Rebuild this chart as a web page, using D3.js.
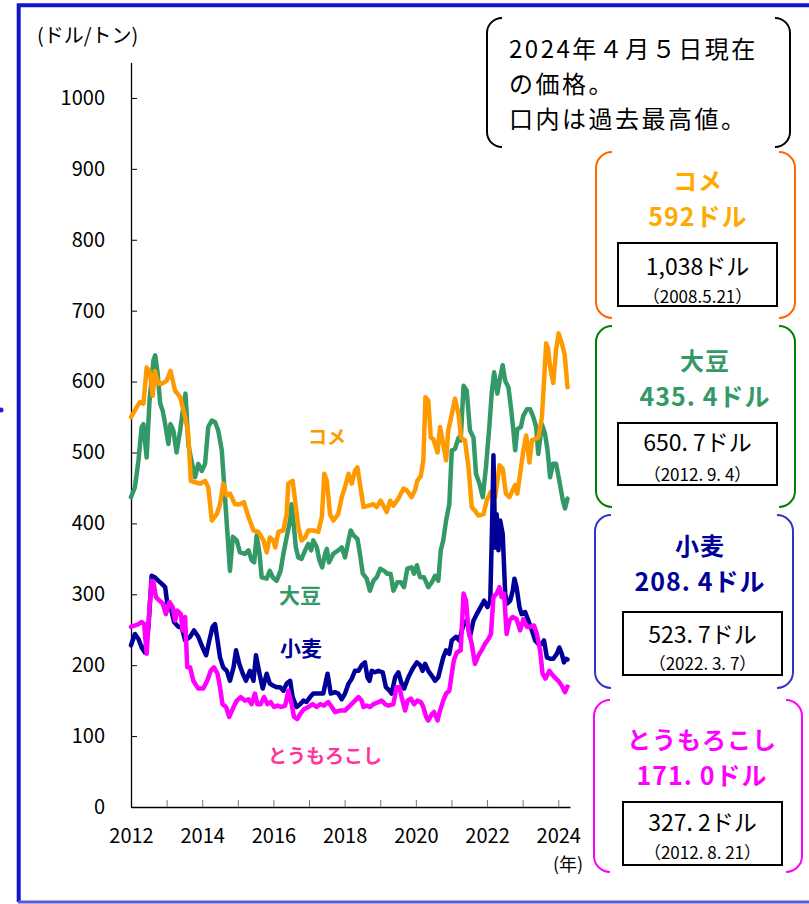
<!DOCTYPE html>
<html>
<head>
<meta charset="utf-8">
<script src="https://cdn.jsdelivr.net/npm/d3@7"></script>
<style>
  body { margin: 0; background: #fff; }
  svg text { font-family: "Noto Sans CJK JP", "Noto Sans", sans-serif; }
</style>
</head>
<body>
<div id="chart"></div>
<script>
// Data (year, $/ton)
var riceSeries = [[2012.00,550],[2012.16,564],[2012.25,571],[2012.35,569],[2012.44,620],[2012.53,613],[2012.61,580],[2012.67,615],[2012.77,597],[2012.86,597],[2013.00,601],[2013.11,615],[2013.24,587],[2013.38,578],[2013.52,550],[2013.61,526],[2013.68,460],[2013.80,458],[2013.94,456],[2014.08,460],[2014.17,451],[2014.27,404],[2014.41,413],[2014.50,427],[2014.59,456],[2014.69,439],[2014.78,442],[2014.92,427],[2015.06,427],[2015.17,430],[2015.30,409],[2015.44,390],[2015.58,388],[2015.72,376],[2015.81,359],[2015.90,380],[2016.00,376],[2016.05,366],[2016.14,388],[2016.28,390],[2016.37,413],[2016.42,456],[2016.54,460],[2016.61,432],[2016.70,395],[2016.79,376],[2016.89,380],[2016.98,390],[2017.12,390],[2017.26,388],[2017.36,409],[2017.43,470],[2017.50,460],[2017.59,413],[2017.68,404],[2017.82,413],[2017.92,437],[2018.01,451],[2018.11,470],[2018.20,456],[2018.29,474],[2018.36,479],[2018.43,456],[2018.53,423],[2018.67,425],[2018.81,427],[2018.90,423],[2019.01,432],[2019.11,423],[2019.18,416],[2019.28,432],[2019.37,425],[2019.51,435],[2019.65,449],[2019.74,447],[2019.88,437],[2019.98,447],[2020.04,460],[2020.14,467],[2020.21,489],[2020.27,578],[2020.35,573],[2020.42,521],[2020.49,519],[2020.61,500],[2020.68,536],[2020.75,517],[2020.85,489],[2020.91,531],[2021.01,554],[2021.10,576],[2021.20,554],[2021.27,521],[2021.38,517],[2021.48,479],[2021.57,423],[2021.66,418],[2021.76,411],[2021.90,413],[2021.99,432],[2022.10,444],[2022.23,437],[2022.35,482],[2022.44,477],[2022.53,442],[2022.63,437],[2022.72,447],[2022.79,454],[2022.85,442],[2022.93,470],[2023.02,503],[2023.10,524],[2023.19,486],[2023.26,517],[2023.35,519],[2023.44,521],[2023.54,550],[2023.60,600],[2023.66,654],[2023.71,648],[2023.77,621],[2023.86,598],[2023.94,645],[2024.01,668],[2024.10,654],[2024.18,638],[2024.26,592]];

var soySeries = [[2012.00,437],[2012.11,451],[2012.21,489],[2012.30,536],[2012.35,540],[2012.39,517],[2012.44,493],[2012.52,573],[2012.63,630],[2012.68,637],[2012.75,611],[2012.82,569],[2012.89,559],[2012.96,540],[2013.05,512],[2013.11,540],[2013.19,531],[2013.28,500],[2013.38,531],[2013.47,564],[2013.53,583],[2013.61,512],[2013.68,493],[2013.80,465],[2013.89,484],[2013.99,474],[2014.08,484],[2014.17,536],[2014.27,545],[2014.36,543],[2014.45,531],[2014.55,503],[2014.64,437],[2014.71,385],[2014.78,333],[2014.86,381],[2014.97,376],[2015.06,359],[2015.20,357],[2015.30,362],[2015.39,348],[2015.46,345],[2015.53,383],[2015.61,357],[2015.67,324],[2015.81,322],[2015.90,333],[2015.98,324],[2016.09,319],[2016.20,333],[2016.28,357],[2016.37,380],[2016.47,404],[2016.51,427],[2016.56,404],[2016.63,366],[2016.70,352],[2016.79,350],[2016.89,362],[2016.98,371],[2017.06,362],[2017.12,376],[2017.22,366],[2017.29,348],[2017.37,338],[2017.45,357],[2017.50,364],[2017.56,345],[2017.68,357],[2017.82,362],[2017.92,366],[2018.01,352],[2018.11,376],[2018.17,390],[2018.25,383],[2018.36,378],[2018.43,357],[2018.51,329],[2018.62,322],[2018.71,305],[2018.81,319],[2018.90,324],[2019.00,336],[2019.11,333],[2019.20,329],[2019.29,329],[2019.37,305],[2019.48,317],[2019.58,317],[2019.67,310],[2019.76,336],[2019.88,338],[2019.95,329],[2020.03,341],[2020.12,324],[2020.23,324],[2020.35,310],[2020.45,317],[2020.54,326],[2020.63,319],[2020.70,362],[2020.77,376],[2020.85,404],[2020.94,427],[2021.01,503],[2021.10,505],[2021.20,521],[2021.26,517],[2021.34,594],[2021.43,587],[2021.52,531],[2021.62,521],[2021.69,470],[2021.79,456],[2021.88,437],[2021.97,479],[2022.07,540],[2022.13,583],[2022.20,613],[2022.29,583],[2022.37,606],[2022.44,623],[2022.51,601],[2022.60,592],[2022.67,564],[2022.74,531],[2022.79,503],[2022.85,533],[2022.95,536],[2023.02,552],[2023.12,561],[2023.21,561],[2023.30,550],[2023.38,536],[2023.44,498],[2023.54,540],[2023.63,526],[2023.70,503],[2023.77,465],[2023.85,484],[2023.94,484],[2024.03,460],[2024.13,432],[2024.19,421],[2024.26,435]];

var wheatSeries = [[2012.00,228],[2012.11,244],[2012.21,237],[2012.30,225],[2012.39,218],[2012.49,254],[2012.58,326],[2012.67,324],[2012.77,319],[2012.86,315],[2012.96,310],[2013.02,287],[2013.11,282],[2013.21,261],[2013.33,254],[2013.42,254],[2013.52,235],[2013.66,240],[2013.77,249],[2013.89,240],[2014.01,225],[2014.11,214],[2014.20,235],[2014.29,254],[2014.36,258],[2014.43,235],[2014.50,211],[2014.59,197],[2014.69,192],[2014.78,178],[2014.88,197],[2014.95,221],[2015.04,202],[2015.14,188],[2015.23,178],[2015.34,192],[2015.44,178],[2015.51,214],[2015.61,188],[2015.70,167],[2015.81,188],[2015.90,174],[2016.00,171],[2016.09,169],[2016.19,169],[2016.28,164],[2016.37,174],[2016.47,178],[2016.54,155],[2016.65,141],[2016.75,145],[2016.84,150],[2016.93,148],[2017.03,155],[2017.12,160],[2017.26,160],[2017.40,160],[2017.52,188],[2017.61,160],[2017.73,162],[2017.82,160],[2017.92,152],[2018.01,160],[2018.11,174],[2018.20,181],[2018.29,192],[2018.39,192],[2018.48,200],[2018.57,204],[2018.64,183],[2018.70,178],[2018.76,192],[2018.85,190],[2018.95,192],[2019.07,190],[2019.16,169],[2019.26,164],[2019.32,160],[2019.42,183],[2019.51,190],[2019.60,174],[2019.67,167],[2019.79,183],[2019.91,195],[2020.03,204],[2020.12,200],[2020.19,192],[2020.26,202],[2020.35,192],[2020.45,185],[2020.54,178],[2020.63,183],[2020.70,197],[2020.77,211],[2020.85,221],[2020.94,216],[2021.01,235],[2021.13,240],[2021.22,235],[2021.34,258],[2021.43,263],[2021.52,240],[2021.62,263],[2021.71,272],[2021.82,282],[2021.92,291],[2022.01,282],[2022.09,291],[2022.14,395],[2022.18,496],[2022.23,366],[2022.27,413],[2022.32,362],[2022.37,404],[2022.44,385],[2022.51,301],[2022.57,287],[2022.65,291],[2022.72,305],[2022.77,322],[2022.83,310],[2022.91,282],[2022.97,272],[2023.07,275],[2023.16,263],[2023.26,249],[2023.35,235],[2023.44,230],[2023.54,230],[2023.60,235],[2023.68,211],[2023.77,209],[2023.86,209],[2023.96,216],[2024.03,225],[2024.10,216],[2024.16,204],[2024.22,209],[2024.26,208]];

var cornSeries = [[2012.00,254],[2012.11,256],[2012.21,258],[2012.30,261],[2012.37,258],[2012.44,216],[2012.52,282],[2012.58,319],[2012.63,317],[2012.70,296],[2012.80,291],[2012.89,287],[2012.98,272],[2013.08,289],[2013.17,282],[2013.24,263],[2013.30,277],[2013.40,272],[2013.45,249],[2013.52,268],[2013.58,197],[2013.66,197],[2013.75,178],[2013.89,167],[2014.03,167],[2014.14,178],[2014.24,192],[2014.33,197],[2014.43,188],[2014.50,169],[2014.57,145],[2014.67,141],[2014.76,127],[2014.88,141],[2014.97,150],[2015.08,155],[2015.20,150],[2015.30,152],[2015.39,145],[2015.48,160],[2015.55,145],[2015.64,145],[2015.74,155],[2015.83,145],[2015.92,148],[2016.02,141],[2016.11,143],[2016.23,141],[2016.33,143],[2016.42,164],[2016.51,145],[2016.58,127],[2016.67,124],[2016.75,131],[2016.86,138],[2016.98,141],[2017.10,145],[2017.21,141],[2017.31,145],[2017.42,143],[2017.54,148],[2017.64,141],[2017.73,134],[2017.87,136],[2018.01,136],[2018.15,143],[2018.29,150],[2018.39,155],[2018.48,150],[2018.53,141],[2018.62,143],[2018.71,141],[2018.81,145],[2018.95,148],[2019.04,150],[2019.14,145],[2019.23,143],[2019.37,145],[2019.46,169],[2019.54,169],[2019.60,155],[2019.70,136],[2019.77,150],[2019.86,153],[2019.95,145],[2020.04,150],[2020.14,148],[2020.21,141],[2020.29,127],[2020.35,122],[2020.45,131],[2020.51,134],[2020.61,122],[2020.68,136],[2020.77,150],[2020.85,160],[2020.94,164],[2021.01,188],[2021.07,207],[2021.15,218],[2021.26,221],[2021.34,301],[2021.41,291],[2021.48,249],[2021.57,230],[2021.66,202],[2021.76,214],[2021.85,221],[2021.94,230],[2022.04,237],[2022.11,244],[2022.18,296],[2022.27,301],[2022.35,310],[2022.41,296],[2022.48,301],[2022.55,244],[2022.63,263],[2022.72,268],[2022.83,265],[2022.93,249],[2023.02,265],[2023.12,254],[2023.21,254],[2023.32,256],[2023.40,244],[2023.49,221],[2023.56,188],[2023.64,181],[2023.75,192],[2023.86,185],[2024.00,178],[2024.10,171],[2024.19,162],[2024.26,170]];

var yTicks = [0, 100, 200, 300, 400, 500, 600, 700, 800, 900, 1000];
var xTicks = [2012, 2013, 2014, 2015, 2016, 2017, 2018, 2019, 2020, 2021, 2022, 2023, 2024];

// Right side panels
var panelNames   = ["コメ", "大豆", "小麦", "とうもろこし"];
var panelPrices  = ["592ドル", "435. 4ドル", "208. 4ドル", "171. 0ドル"];
var panelRecords = ["1,038ドル", "650. 7ドル", "523. 7ドル", "327. 2ドル"];
var panelDates   = ["（2008.5.21）", "（2012. 9. 4）", "（2022. 3. 7）", "（2012. 8. 21）"];
var noteLines    = ["2024年４月５日現在", "の価格。", "口内は過去最高値。"];

// Chart area
var svgWidth = 809;
var svgHeight = 904;

var margin = { top: 62.5, right: 239, bottom: 97, left: 131 };
var chartHeight = svgHeight - margin.top - margin.bottom;
var chartWidth = svgWidth - margin.left - margin.right;

var svg = d3.select("#chart")
  .append("svg")
  .attr("width", svgWidth)
  .attr("height", svgHeight);

// Frame
svg.append("path")
  .attr("d", "M" + (svgWidth + 10) + ",5.3 H18.7 V902")
  .attr("fill", "none")
  .attr("stroke", "#1414c8")
  .attr("stroke-width", 4);
svg.append("line")
  .attr("x1", 18).attr("x2", svgWidth)
  .attr("y1", 902).attr("y2", 902)
  .attr("stroke", "#5a5ad8")
  .attr("stroke-width", 3);
svg.append("circle")
  .attr("cx", 1).attr("cy", 410).attr("r", 2.5)
  .attr("fill", "#2020cc");

var chartGroup = svg.append("g")
  .attr("transform", "translate(" + margin.left + "," + margin.top + ")");

// Scales
var xScale = d3.scaleLinear().domain([2012, 2024.33]).range([0, chartWidth]);
var yScale = d3.scaleLinear().domain([0, 1050]).range([chartHeight, 0]);

var bottomAxis = d3.axisBottom(xScale)
  .tickValues(xTicks)
  .tickSize(-7)
  .tickSizeOuter(0)
  .tickPadding(22)
  .tickFormat(function(d) { return d % 2 === 0 ? d : ""; });

var leftAxis = d3.axisLeft(yScale)
  .tickValues(yTicks)
  .tickSize(-6)
  .tickSizeOuter(0)
  .tickPadding(26)
  .tickFormat(d3.format("d"));

var xAxisG = chartGroup.append("g")
  .attr("transform", "translate(0," + chartHeight + ")")
  .call(bottomAxis);
xAxisG.selectAll(".tick line").attr("stroke", "#777");

var yAxisG = chartGroup.append("g").call(leftAxis);

[xAxisG, yAxisG].forEach(function(g) {
  g.select(".domain").attr("stroke", "#000").attr("stroke-width", 1.3);
  g.selectAll("text")
    .attr("fill", "#000")
    .style("font-size", "20px")
    .style("font-family", "'Noto Sans CJK JP', sans-serif");
});

// Lines
var line = d3.line()
  .x(function(d) { return xScale(d[0]); })
  .y(function(d) { return yScale(d[1]); });

var seriesList = [
  { data: soySeries, color: "#339966" },
  { data: riceSeries, color: "#ff9900" },
  { data: wheatSeries, color: "#000099" },
  { data: cornSeries, color: "#ff00ff" }
];

seriesList.forEach(function(s) {
  chartGroup.append("path")
    .datum(s.data)
    .attr("d", line)
    .attr("fill", "none")
    .attr("stroke", s.color)
    .attr("stroke-width", 4.5)
    .attr("stroke-linejoin", "round")
    .attr("stroke-linecap", "round");
});

// Labels on the lines
var lineLabels = [
  { text: panelNames[0], x: 327, y: 435, color: "#ff9900", size: 19 },
  { text: panelNames[1], x: 300, y: 594, color: "#339966", size: 21 },
  { text: panelNames[2], x: 301, y: 647, color: "#000099", size: 21 },
  { text: panelNames[3], x: 325, y: 754, color: "#ff3399", size: 19 }
];
svg.selectAll(".lineLabel")
  .data(lineLabels)
  .enter()
  .append("text")
  .attr("class", "lineLabel")
  .attr("x", function(d) { return d.x; })
  .attr("y", function(d) { return d.y; })
  .attr("text-anchor", "middle")
  .attr("dominant-baseline", "central")
  .attr("font-weight", "bold")
  .attr("font-size", function(d) { return d.size + "px"; })
  .attr("fill", function(d) { return d.color; })
  .text(function(d) { return d.text; });

// Axis titles
svg.append("text")
  .attr("x", 37).attr("y", 34)
  .attr("dominant-baseline", "central")
  .attr("font-size", "20px")
  .text("(ドル/トン)");

svg.append("text")
  .attr("x", 568).attr("y", 863)
  .attr("text-anchor", "middle")
  .attr("dominant-baseline", "central")
  .attr("font-size", "18px")
  .text("(年)");

// Bracket shape
function bracket(x0, y0, x1, y1, r, color) {
  var d = "M" + (x0 + r) + "," + y0 + " A" + r + "," + r + " 0 0 0 " + x0 + "," + (y0 + r) +
          " V" + (y1 - r) + " A" + r + "," + r + " 0 0 0 " + (x0 + r) + "," + y1 +
          " M" + (x1 - r) + "," + y0 + " A" + r + "," + r + " 0 0 1 " + x1 + "," + (y0 + r) +
          " V" + (y1 - r) + " A" + r + "," + r + " 0 0 1 " + (x1 - r) + "," + y1;
  svg.append("path")
    .attr("d", d)
    .attr("fill", "none")
    .attr("stroke", color)
    .attr("stroke-width", 2);
}

// Note box
bracket(487, 18, 790, 147, 15, "#000");
noteLines.forEach(function(t, i) {
  svg.append("text")
    .attr("x", 509)
    .attr("y", 47 + i * 35)
    .attr("dominant-baseline", "central")
    .attr("font-size", "24px")
    .attr("letter-spacing", "2.5px")
    .text(t);
});

// Price panels
var panelLayout = [
  { x0: 596, x1: 795, y0: 152, y1: 318, cx: 698, title: 179, price: 215, bx0: 618, bx1: 777, by0: 243, by1: 306, rec: 265, date: 295 },
  { x0: 596, x1: 795, y0: 326, y1: 507, cx: 705, title: 359, price: 395, bx0: 618, bx1: 777, by0: 423, by1: 485, rec: 441, date: 473 },
  { x0: 595, x1: 793, y0: 515, y1: 688, cx: 700, title: 544, price: 580, bx0: 623, bx1: 782, by0: 612, by1: 675, rec: 633, date: 662 },
  { x0: 594, x1: 802, y0: 700, y1: 872, cx: 702, title: 738, price: 774, bx0: 623, bx1: 782, by0: 802, by1: 865, rec: 821, date: 851 }
];
var bracketColors = ["#ff6600", "#008000", "#3333cc", "#ff00ff"];
var titleColors = ["#ffaa00", "#339966", "#000099", "#ff00ff"];

panelLayout.forEach(function(p, i) {
  bracket(p.x0, p.y0, p.x1, p.y1, 16, bracketColors[i]);

  svg.append("text")
    .attr("x", p.cx).attr("y", p.title)
    .attr("text-anchor", "middle")
    .attr("dominant-baseline", "central")
    .attr("font-size", "24px")
    .attr("font-weight", "bold")
    .attr("letter-spacing", "1px")
    .attr("fill", titleColors[i])
    .text(panelNames[i]);

  svg.append("text")
    .attr("x", p.cx).attr("y", p.price)
    .attr("text-anchor", "middle")
    .attr("dominant-baseline", "central")
    .attr("font-size", "25px")
    .attr("font-weight", "bold")
    .attr("letter-spacing", "1px")
    .attr("fill", titleColors[i])
    .text(panelPrices[i]);

  svg.append("rect")
    .attr("x", p.bx0).attr("y", p.by0)
    .attr("width", p.bx1 - p.bx0).attr("height", p.by1 - p.by0)
    .attr("fill", "#fff")
    .attr("stroke", "#000")
    .attr("stroke-width", 2);

  svg.append("text")
    .attr("x", (p.bx0 + p.bx1) / 2).attr("y", p.rec)
    .attr("text-anchor", "middle")
    .attr("dominant-baseline", "central")
    .attr("font-size", "23px")
    .text(panelRecords[i]);

  svg.append("text")
    .attr("x", (p.bx0 + p.bx1) / 2).attr("y", p.date)
    .attr("text-anchor", "middle")
    .attr("dominant-baseline", "central")
    .attr("font-size", "17px")
    .text(panelDates[i]);
});
</script>
</body>
</html>
